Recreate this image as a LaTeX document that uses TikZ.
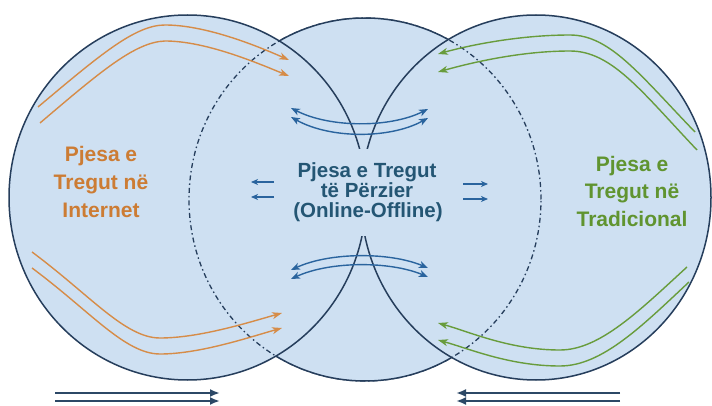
\documentclass[tikz,border=0pt]{standalone}
\usepackage{fontspec}
\setmainfont{Liberation Sans}
\usetikzlibrary{arrows.meta}
\definecolor{cfill}{RGB}{206,224,242}
\definecolor{cline}{RGB}{38,62,92}
\definecolor{corange}{RGB}{204,124,52}
\definecolor{corangeline}{RGB}{214,140,72}
\definecolor{cgreen}{RGB}{96,148,48}
\definecolor{cgreenline}{RGB}{104,156,60}
\definecolor{ctext}{RGB}{36,86,116}
\definecolor{cblue}{RGB}{42,100,158}
\definecolor{cdark}{RGB}{44,72,102}
\tikzset{
  outline/.style={draw=cline, line width=1.5pt},
  hidden/.style={draw=cline, line width=1.3pt, dash pattern=on 5pt off 3pt on 1.5pt off 3pt},
  orarrow/.style={draw=corangeline, line width=1.4pt, -{Stealth[length=10pt,width=7pt,inset=3pt]}},
  grarrow/.style={draw=cgreenline, line width=1.4pt, -{Stealth[length=10pt,width=7pt,inset=3pt]}},
  blarrow/.style={draw=cblue, line width=1.4pt, {Stealth[length=9pt,width=7pt,inset=2.5pt]}-{Stealth[length=9pt,width=7pt,inset=2.5pt]}},
  smarrow/.style={draw=cblue, line width=1.3pt, -{Stealth[length=7pt,width=6pt,inset=2pt]}},
  bigarrow/.style={draw=cdark, line width=2pt, -{Latex[length=10pt,width=8pt]}},
  lbl/.style={font=\fontsize{21pt}{25pt}\selectfont\bfseries, anchor=base, inner sep=0pt},
  clbl/.style={font=\fontsize{20.5pt}{24pt}\selectfont\bfseries, anchor=base, inner sep=0pt, text=ctext}
}
\begin{document}
\begin{tikzpicture}[x=1pt,y=-1pt]
\useasboundingbox (0,0) rectangle (712,406);
\fill[white] (0,0) rectangle (712,406);
% fills
\fill[cfill] (365,199.5) ellipse [x radius=176pt, y radius=181.5pt];
\fill[cfill] (187.5,197.5) ellipse [x radius=178.5pt, y radius=182.5pt];
\fill[cfill] (536,197.5) ellipse [x radius=175pt, y radius=182.5pt];
% hidden parts of the middle circle
\draw[hidden] (365,199.5) ellipse [x radius=176pt, y radius=181.5pt];
% visible parts of the middle circle
\begin{scope}[even odd rule]
  \clip (-10,-10) rectangle (722,416)
    (187.5,197.5) ellipse [x radius=178.5pt, y radius=182.5pt]
    (536,197.5) ellipse [x radius=175pt, y radius=182.5pt];
  \fill[cfill] (365,199.5) ellipse [x radius=176pt, y radius=181.5pt];
  \draw[outline] (365,199.5) ellipse [x radius=176pt, y radius=181.5pt];
\end{scope}
% left and right circles
\draw[outline] (187.5,197.5) ellipse [x radius=178.5pt, y radius=182.5pt];
\draw[outline] (536,197.5) ellipse [x radius=175pt, y radius=182.5pt];
% background behind the centre text
\fill[cfill] (300,149) rectangle (435,236);
% orange arrows
\draw[orarrow] (38,107) .. controls (100,55) and (135,25) .. (165,25) .. controls (205,25) and (255,45) .. (289,60);
\draw[orarrow] (40,123) .. controls (100,72) and (135,42) .. (165,41) .. controls (205,41) and (255,62) .. (289,76);
\draw[orarrow] (32,252) .. controls (90,295) and (125,338) .. (160,338) .. controls (200,338) and (250,322) .. (282,313);
\draw[orarrow] (32,268) .. controls (90,311) and (125,354) .. (160,354) .. controls (200,354) and (250,337) .. (282,328);
% green arrows
\draw[grarrow] (695,132) .. controls (640,75) and (610,35) .. (570,35) .. controls (520,35) and (470,45) .. (438,54);
\draw[grarrow] (697,150) .. controls (642,92) and (612,51) .. (570,51) .. controls (520,51) and (470,63) .. (438,72);
\draw[grarrow] (687,267) .. controls (640,310) and (600,350) .. (560,350) .. controls (510,350) and (470,332) .. (438,323);
\draw[grarrow] (689,282) .. controls (642,326) and (602,366) .. (560,366) .. controls (510,366) and (470,349) .. (438,340);
% blue double arrows
\draw[blarrow] (291,108) .. controls (330,128) and (390,128) .. (428,109);
\draw[blarrow] (291,117) .. controls (330,139) and (390,139) .. (428,118);
\draw[blarrow] (291,270) .. controls (330,252) and (390,252) .. (428,268);
\draw[blarrow] (291,279) .. controls (330,261) and (390,261) .. (428,277);
% small arrows
\coordinate (sl1s) at (274,182); \coordinate (sl1e) at (251,182);
\coordinate (sl2s) at (274,197); \coordinate (sl2e) at (251,197);
\coordinate (sr1s) at (463,184); \coordinate (sr1e) at (488,184);
\coordinate (sr2s) at (463,199); \coordinate (sr2e) at (488,199);
\draw[smarrow] (sl1s) -- (sl1e);
\draw[smarrow] (sl2s) -- (sl2e);
\draw[smarrow] (sr1s) -- (sr1e);
\draw[smarrow] (sr2s) -- (sr2e);
% bottom arrows
\coordinate (bl1s) at (55,393); \coordinate (bl1e) at (220,393);
\coordinate (bl2s) at (55,401); \coordinate (bl2e) at (220,401);
\coordinate (br1s) at (620,393); \coordinate (br1e) at (456,393);
\coordinate (br2s) at (620,401); \coordinate (br2e) at (456,401);
\draw[bigarrow] (bl1s) -- (bl1e);
\draw[bigarrow] (bl2s) -- (bl2e);
\draw[bigarrow] (br1s) -- (br1e);
\draw[bigarrow] (br2s) -- (br2e);
% texts
\node[lbl, text=corange] (l1) at (101,162) {Pjesa e};
\node[lbl, text=corange] (l2) at (101,190) {Tregut në};
\node[lbl, text=corange] (l3) at (101,218) {Internet};
\node[lbl, text=cgreen] (r1) at (632,172) {Pjesa e};
\node[lbl, text=cgreen] (r2) at (632,199) {Tregut në};
\node[lbl, text=cgreen] (r3) at (632,226) {Tradicional};
\node[clbl] (c1) at (367,178) {Pjesa e Tregut};
\node[clbl] (c2) at (367,198) {të Përzier};
\node[clbl] (c3) at (368,217.5) {(Online-Offline)};
\end{tikzpicture}
\end{document}
